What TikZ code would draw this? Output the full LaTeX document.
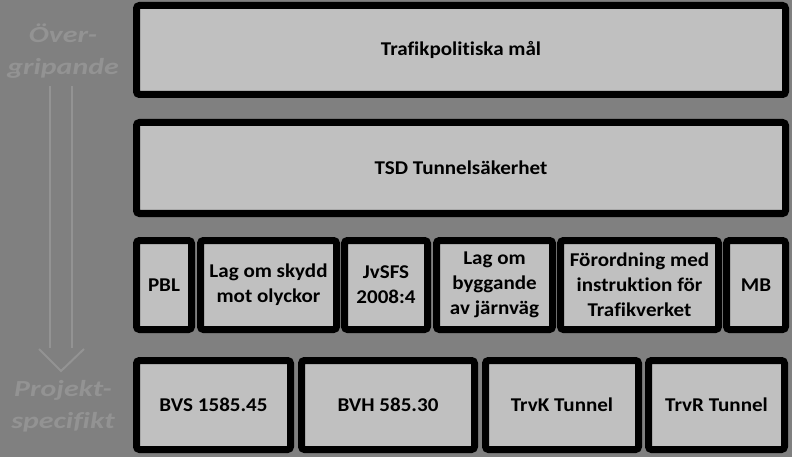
\documentclass[tikz,border=0pt]{standalone}
\usepackage{fontspec}
\setmainfont[FakeStretch=1.08,Ligatures={NoCommon}]{Carlito}
\newfontfamily\sidefont[FakeStretch=1.3,Ligatures={NoCommon}]{Carlito}
\definecolor{bg}{HTML}{808080}
\definecolor{boxfill}{HTML}{C0C0C0}
\definecolor{faint}{HTML}{939393}
\begin{document}
\begin{tikzpicture}[x=1pt,y=-1pt,
  boxnode/.style={draw=black, line width=7pt, fill=boxfill, rounded corners=3pt,
    inner sep=0pt, align=center, font=\fontsize{19.5}{25}\selectfont\bfseries},
  sidelabel/.style={text=faint, align=center, inner sep=0pt,
    font=\sidefont\fontsize{23}{32}\selectfont\bfseries\itshape},
  sidearrow/.style={draw=faint, line width=2pt}]
\fill[bg] (0,0) rectangle (792,457);
\useasboundingbox (0,0) rectangle (792,457);
% helper: outer box x1,x2,y1,y2
\newcommand{\mybox}[6]{%
  \node[boxnode, minimum width={#3-#2-7pt}, minimum height={#5-#4-7pt}]
    (#1) at ({(#2+#3)/2},{(#4+#5)/2}) {#6};}
\mybox{t1}{133}{789}{2}{98}{Trafikpolitiska mål}
\mybox{t2}{133}{789}{119}{217}{TSD Tunnelsäkerhet}
\mybox{pbl}{133}{195}{237}{333}{PBL}
\mybox{lso}{197}{340}{237}{333}{Lag om skydd\\mot olyckor}
\mybox{jv}{341}{431}{237}{333}{JvSFS\\2008:4}
\mybox{lbj}{433}{556}{237}{333}{Lag om\\byggande\\av järnväg}
\mybox{ford}{557}{722}{237}{333}{Förordning med\\instruktion för\\Trafikverket}
\mybox{mb}{723}{789}{237}{333}{MB}
\mybox{bvs}{133}{294}{357}{453}{BVS 1585.45}
\mybox{bvh}{298}{478}{357}{453}{BVH 585.30}
\mybox{trvk}{482}{642}{357}{453}{TrvK Tunnel}
\mybox{trvr}{645}{788}{357}{453}{TrvR Tunnel}
% side labels
\node[sidelabel] (top) at (63,51) {Över-\\gripande};
\node[sidelabel] (bot) at (63,406) {Projekt-\\specifikt};
% hollow arrow
\coordinate (sl) at (50,86);
\coordinate (sr) at (72,86);
\coordinate (bl) at (50,348);
\coordinate (br) at (72,348);
\coordinate (hl) at (39,349);
\coordinate (hr) at (84,349);
\coordinate (tip) at (61,371);
\draw[sidearrow] (sl) -- (bl);
\draw[sidearrow] (sr) -- (br);
\draw[sidearrow, line join=miter] (hl) -- (tip) -- (hr);
\end{tikzpicture}
\end{document}
